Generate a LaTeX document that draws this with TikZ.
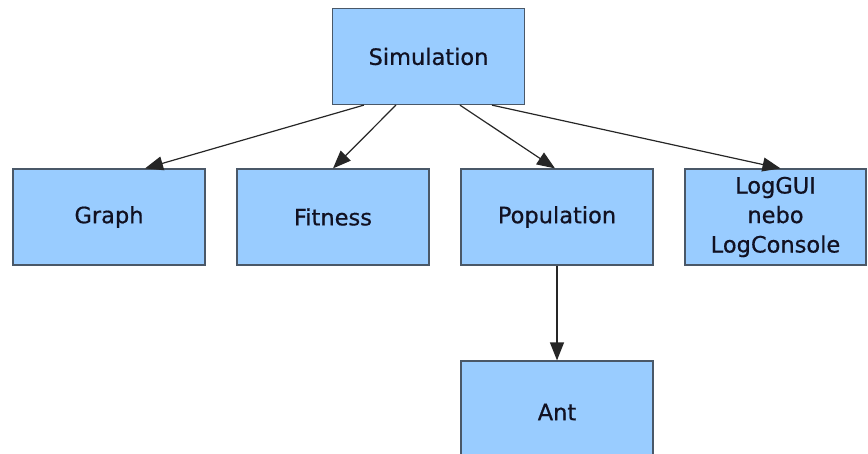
\documentclass[tikz,border=0pt]{standalone}
\usepackage{fontspec}
\setmainfont{DejaVu Sans}[FakeBold=0.6]
\usetikzlibrary{arrows.meta}
\definecolor{boxfill}{HTML}{99CCFF}
\definecolor{boxline}{HTML}{4A5868}
\definecolor{txt}{HTML}{111122}
\begin{document}
\begin{tikzpicture}[x=1pt,y=-1pt,
  box/.style={draw=boxline, line width=1.2pt, fill=boxfill, text=txt,
    minimum width=192pt, minimum height=96pt, inner sep=0pt, align=center,
    font=\fontsize{22.5}{29.5}\selectfont},
  arr/.style={draw=black!85, line width=1.2pt, -{Triangle[length=18pt,width=14pt]}}]
\useasboundingbox (0,0) rectangle (868,453);
\begin{scope}
\clip (0,0) rectangle (868,453);
\node[box] (sim) at (428.5,56.5) {Simulation};
\node[box] (graph) at (109,217) {Graph};
\node[box] (fit) at (333,217) {Fitness};
\node[box] (pop) at (557,217) {Population};
\node[box, minimum width=181pt] (log) at (775.5,217) {LogGUI\\nebo\\LogConsole};
\node[box, minimum height=102pt] (ant) at (557,412) {Ant};
\draw[arr] ([xshift=32pt]sim.south west) -- ([xshift=36pt]graph.north);
\draw[arr] ([xshift=64pt]sim.south west) -- (fit.north);
\draw[arr] ([xshift=128pt]sim.south west) -- ([xshift=-2pt]pop.north);
\draw[arr] ([xshift=160pt]sim.south west) -- ([xshift=5pt]log.north);
\draw[arr] (pop.south) -- (ant.north);
\end{scope}
\end{tikzpicture}
\end{document}
